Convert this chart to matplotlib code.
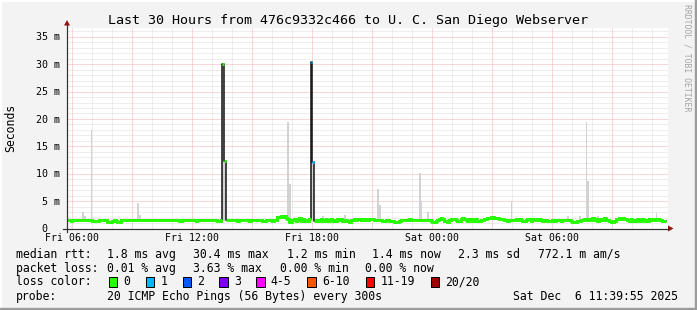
import numpy as np
import matplotlib
matplotlib.use("Agg")
import matplotlib.pyplot as plt
from matplotlib.patches import Rectangle, Polygon

W, H, DPI = 697, 310, 100
MONO = "DejaVu Sans Mono"

title = "Last 30 Hours from 476c9332c466 to U. C. San Diego Webserver"
start_hour = 5 + 40 / 60.0   # Fri 05:40, 5-minute steps

# median RTT in ms, 12 steps (one hour) per row
median_ms = [
    1.5, 1.5, 1.5, 1.3, 1.5, 1.5, 1.5, 1.5, 1.5, 1.5, 1.5, 1.5,
    1.5, 1.5, 1.5, 1.5, 1.4, 1.4, 1.4, 1.3, 1.5, 1.5, 1.5, 1.5,
    1.5, 1.2, 1.2, 1.2, 1.3, 1.5, 1.3, 1.2, 1.2, 1.5, 1.5, 1.5,
    1.5, 1.5, 1.5, 1.5, 1.6, 1.6, 1.6, 1.6, 1.6, 1.6, 1.5, 1.5,
    1.5, 1.5, 1.5, 1.5, 1.5, 1.5, 1.5, 1.5, 1.5, 1.5, 1.5, 1.5,
    1.5, 1.5, 1.5, 1.5, 1.5, 1.5, 1.5, 1.5, 1.3, 1.3, 1.5, 1.5,
    1.5, 1.5, 1.5, 1.5, 1.5, 1.5, 1.4, 1.5, 1.5, 1.5, 1.5, 1.5,
    1.5, 1.5, 1.5, 1.5, 1.5, 1.5, 1.5, 1.4, 1.4, 1.5, 30.0, 12.3,
    1.5, 1.5, 1.5, 1.5, 1.5, 1.5, 1.5, 1.4, 1.5, 1.5, 1.5, 1.5,
    1.5, 1.5, 1.4, 1.5, 1.5, 1.5, 1.5, 1.5, 1.5, 1.5, 1.4, 1.4,
    1.5, 1.5, 1.5, 1.5, 1.4, 1.5, 1.5, 2.1, 2.1, 2.2, 2.1, 2.2,
    2.0, 1.7, 1.2, 1.2, 1.5, 1.8, 1.4, 1.6, 1.9, 1.3, 1.7, 1.4,
    1.6, 1.4, 1.8, 30.4, 12.1, 1.4, 1.6, 1.3, 1.6, 1.7, 1.4, 1.5,
    1.7, 1.3, 1.5, 1.8, 1.4, 1.6, 1.3, 1.7, 1.5, 1.8, 1.4, 1.6,
    1.5, 1.3, 1.2, 1.5, 1.6, 1.7, 1.6, 1.8, 1.7, 1.6, 1.7, 1.6,
    1.7, 1.6, 1.7, 1.7, 1.7, 1.6, 1.6, 1.6, 1.6, 1.6, 1.3, 1.4,
    1.5, 1.5, 1.3, 1.3, 1.4, 1.2, 1.1, 1.1, 1.4, 1.6, 1.6, 1.6,
    1.6, 1.5, 1.7, 1.6, 1.5, 1.6, 1.6, 1.6, 1.6, 1.6, 1.6, 1.6,
    1.6, 1.6, 1.5, 1.4, 1.2, 1.1, 1.3, 1.6, 1.8, 1.9, 1.7, 1.4,
    1.3, 1.2, 1.5, 1.8, 1.7, 1.8, 1.6, 1.3, 1.4, 1.7, 1.9, 1.8,
    1.6, 1.3, 1.7, 1.4, 1.8, 1.3, 1.7, 1.4, 1.3, 1.6, 1.5, 1.7,
    1.8, 1.9, 2.0, 2.1, 2.1, 2.0, 2.0, 1.9, 1.8, 1.8, 1.7, 1.6,
    1.5, 1.4, 1.5, 1.5, 1.6, 1.6, 1.7, 1.6, 1.7, 1.6, 1.4, 1.3,
    1.5, 1.8, 1.7, 1.4, 1.8, 1.6, 1.7, 1.5, 1.8, 1.6, 1.4, 1.5,
    1.5, 1.4, 1.3, 1.4, 1.5, 1.4, 1.5, 1.6, 1.5, 1.4, 1.6, 1.6,
    1.6, 1.6, 1.5, 1.3, 1.2, 1.2, 1.2, 1.3, 1.3, 1.6, 1.6, 1.7,
    1.7, 1.6, 1.8, 1.6, 1.9, 1.5, 1.8, 1.4, 1.8, 1.6, 1.5, 1.9,
    1.6, 1.5, 1.3, 1.1, 1.1, 1.3, 1.7, 1.8, 1.9, 1.8, 1.9, 1.8,
    1.8, 1.6, 1.4, 1.7, 1.3, 1.6, 1.4, 1.8, 1.3, 1.5, 1.7, 1.4,
    1.6, 1.3, 1.7, 1.5, 1.7, 1.6, 1.7, 1.7, 1.6, 1.5, 1.3, 1.3,
]

# steps with packet loss (count of 20 pings lost)
loss_idx = [147, 148]
loss_cnt = [1, 1]

# smoke (ping spread) spikes: step index and top value in ms
smoke_idx = [10, 11, 15, 43, 44, 94, 95, 133, 134, 147, 148, 154, 167,
             187, 188, 212, 213, 217, 267, 301, 308, 312, 313, 319, 354]
smoke_top = [3.0, 2.3, 18.0, 4.6, 2.5, 30.0, 12.3, 19.4, 8.2, 30.4, 12.1, 2.3, 2.5,
             7.3, 4.2, 10.2, 5.1, 3.0, 5.1, 2.3, 2.3, 19.4, 8.6, 2.2, 2.8]

xtick_hours = [6, 12, 18, 24, 30]
xtick_labels = ["Fri 06:00", "Fri 12:00", "Fri 18:00", "Sat 00:00", "Sat 06:00"]
ytick_vals = [0, 5, 10, 15, 20, 25, 30, 35]
ytick_labels = ["0  ", "5 m", "10 m", "15 m", "20 m", "25 m", "30 m", "35 m"]

loss_names = ["0", "1", "2", "3", "4-5", "6-10", "11-19", "20/20"]
loss_colors = ["#26ff00", "#00b8ff", "#0059ff", "#7e00ff", "#ff00ff", "#ff5500", "#ff0000", "#a10000"]

stats_rows = [
    ("median rtt:", [("1.8 ms avg", 107.3), ("30.4 ms max", 193.3), ("1.2 ms min", 286.7),
                     ("1.4 ms now", 372.3), ("2.3 ms sd", 458.3), ("772.1 m am/s", 537.7)]),
    ("packet loss:", [("0.01 % avg", 107.3), ("3.63 % max", 193.3), ("0.00 % min", 280.5),
                      ("0.00 % now", 365.0)]),
]
probe_text = "20 ICMP Echo Pings (56 Bytes) every 300s"
date_text = "Sat Dec  6 11:39:55 2025"

# ---------------------------------------------------------------------------
BG = "#f3f3f3"
fig = plt.figure(figsize=(W / DPI, H / DPI), dpi=DPI, facecolor=BG)

PX0, PX1 = 67.0, 668.0
PY0, PY1 = 28.0, 228.5
ax = fig.add_axes([PX0 / W, (H - PY1) / H, (PX1 - PX0) / W, (PY1 - PY0) / H])
ax.set_facecolor("white")
x_lo = 6 - (72.4 - PX0) / 20.0
ax.set_xlim(x_lo, x_lo + (PX1 - PX0) / 20.0)
ax.set_ylim(0, 36.6)
for s in ax.spines.values():
    s.set_visible(False)
ax.set_xticks([])
ax.set_yticks([])

PT = 72.0 / DPI  # one pixel in points
# grid
for v in range(1, 37):
    if v % 5:
        ax.axhline(v, color="#dcdcdc", lw=PT, ls=(0, (1, 1)), zorder=1)
for v in range(5, 37, 5):
    ax.axhline(v, color="#f6b0b0", lw=PT, ls=(0, (1, 1)), zorder=1.1)
for h in range(6, 36):
    if h % 3:
        ax.axvline(h, color="#dcdcdc", lw=PT, ls=(0, (1, 1)), zorder=1)
    else:
        ax.axvline(h, color="#f6b0b0", lw=PT, ls=(0, (1, 1)), zorder=1.1)

med = np.array(median_ms, dtype=float)
n = len(med)
xe = start_hour + np.arange(n + 1) / 12.0

# smoke
sx = xe[np.array(smoke_idx)]
st = np.array(smoke_top)
ax.bar(sx, st - 1.4, bottom=1.4, width=1 / 12.0, align="edge", color="#d2d2d2",
       linewidth=0, zorder=2)

# dark median line (shows the vertical transitions)
ax.plot(xe, np.append(med, med[-1]), drawstyle="steps-post", color="#1c1c1c",
        lw=1.6 * PT, zorder=3)

# loss-coloured median segments
loss = np.zeros(n, dtype=int)
for i, c in zip(loss_idx, loss_cnt):
    loss[i] = c

def color_index(c):
    if c == 0: return 0
    if c <= 3: return c
    if c <= 5: return 4
    if c <= 10: return 5
    if c <= 19: return 6
    return 7

cidx = np.array([color_index(c) for c in loss])
for k in np.unique(cidx):
    xs, ys = [], []
    prev = None
    for i in range(n):
        if cidx[i] != k:
            prev = None
            continue
        if prev is not None and (prev != i - 1 or abs(med[i] - med[prev]) > 3):
            xs.append(np.nan); ys.append(np.nan)
        elif prev is None and xs:
            xs.append(np.nan); ys.append(np.nan)
        xs += [xe[i], xe[i + 1]]
        ys += [med[i], med[i]]
        prev = i
    ax.plot(xs, ys, color=loss_colors[k], lw=2.9 * PT, solid_capstyle="butt",
            solid_joinstyle="miter", zorder=4)

# ---------------------------------------------------------------------------
ov = fig.add_axes([0, 0, 1, 1], zorder=5)
ov.set_xlim(0, W)
ov.set_ylim(H, 0)
ov.axis("off")
ov.patch.set_alpha(0)

# 3D frame
ov.plot([0.5, W - 0.5], [0.8, 0.8], color="#ffffff", lw=2 * PT)
ov.plot([0.8, 0.8], [0.5, H - 0.5], color="#ffffff", lw=2 * PT)
ov.plot([0, W], [H - 1.2, H - 1.2], color="#9c9c9c", lw=2.4 * PT)
ov.plot([W - 1.2, W - 1.2], [0, H], color="#9c9c9c", lw=2.4 * PT)

# axes lines and arrows
ov.plot([63, 668], [PY1, PY1], color="#303030", lw=1.2 * PT)
ov.plot([PX0, PX0], [231.5, 25], color="#303030", lw=1.2 * PT)
ov.add_patch(Polygon([[64.0, 25.5], [70.0, 25.5], [67.0, 20.0]], closed=True,
                     color="#9a1010", lw=0))
ov.add_patch(Polygon([[668, 225.5], [668, 231.5], [673.5, 228.5]], closed=True,
                     color="#9a1010", lw=0))

# title
ov.text(348.3, 23.8, title, family=MONO, fontsize=9.6, ha="center", va="baseline",
        color="#000000")

# tick labels
for h, lab in zip(xtick_hours, xtick_labels):
    px = 72.4 + (h - 6) * 20.0
    ov.text(px, 241.3, lab, family=MONO, fontsize=7.1, ha="center", va="baseline")
for v, lab in zip(ytick_vals, ytick_labels):
    py = PY1 - v * (PY1 - PY0) / 36.6
    ov.text(60.5, py + 3.6, lab, family=MONO, fontsize=7.2, ha="right", va="baseline")

ov.text(10.5, 127.5, "Seconds", family=MONO, fontsize=8.3, rotation=90,
        ha="center", va="center")
ov.text(686.8, 4.5, "RRDTOOL / TOBI OETIKER", family=MONO, fontsize=5.9,
        rotation=270, ha="center", va="top", color="#a4a4a4")

# legend / statistics
fs = 8.3
baselines = [257.8, 271.8, 285.4, 299.8]
for (lab, items), yb in zip(stats_rows, baselines[:2]):
    ov.text(16, yb, lab, family=MONO, fontsize=fs, va="baseline")
    for t, x in items:
        ov.text(x, yb, t, family=MONO, fontsize=fs, va="baseline")

ov.text(16, baselines[2], "loss color:", family=MONO, fontsize=fs, va="baseline")
box_x = [108.7, 145.7, 182.7, 219.3, 256.0, 307.3, 365.7, 430.7]
for bx, name, col in zip(box_x, loss_names, loss_colors):
    ov.add_patch(Rectangle((bx, 276.8), 8.6, 10.0, facecolor=col, edgecolor="black",
                           lw=PT))
    ov.text(bx + 14.6, baselines[2], name, family=MONO, fontsize=fs, va="baseline")

ov.text(16, baselines[3], "probe:", family=MONO, fontsize=fs, va="baseline")
ov.text(107.3, baselines[3], probe_text, family=MONO, fontsize=fs, va="baseline")
ov.text(513.3, baselines[3], date_text, family=MONO, fontsize=fs, va="baseline")

fig.savefig("out.png", dpi=DPI, facecolor=BG)
